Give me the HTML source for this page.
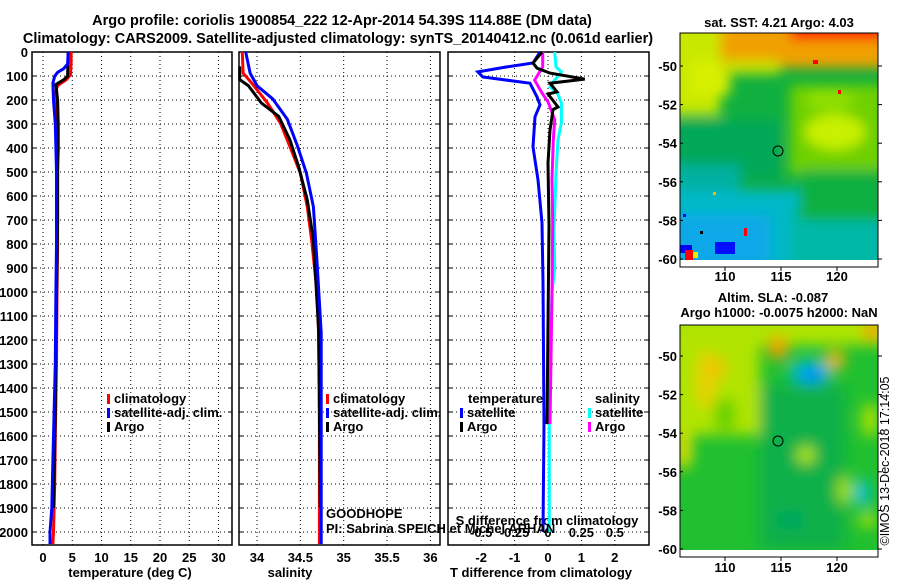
<!DOCTYPE html>
<html><head><meta charset="utf-8"><style>
html,body{margin:0;padding:0;background:#fff;}
svg text{font-family:"Liberation Sans",Arial,sans-serif;}
.b{font-weight:bold;font-size:13px;}
</style></head>
<body>
<svg id="fig" width="900" height="580" viewBox="0 0 900 580" xmlns="http://www.w3.org/2000/svg">
<defs>
<filter id="bl1" filterUnits="userSpaceOnUse" x="660" y="10" width="240" height="270"><feGaussianBlur stdDeviation="6"/></filter>
<filter id="bl2" filterUnits="userSpaceOnUse" x="660" y="300" width="240" height="270"><feGaussianBlur stdDeviation="7"/></filter>
<clipPath id="c1"><rect x="680" y="33" width="198" height="227"/></clipPath>
<clipPath id="c2"><rect x="680" y="325" width="198" height="225"/></clipPath>
</defs>
<text x="342" y="25" text-anchor="middle" font-weight="bold" font-size="14.5">Argo profile: coriolis 1900854_222 12-Apr-2014 54.39S 114.88E (DM data)</text>
<text x="338" y="43" text-anchor="middle" font-weight="bold" font-size="14.5">Climatology: CARS2009. Satellite-adjusted climatology: synTS_20140412.nc (0.061d earlier)</text>

<!-- map 1 -->
<g>
<g clip-path="url(#c1)">
<rect x="680" y="33" width="198" height="227" fill="#10b040"/>
<g filter="url(#bl1)">
<rect x="700" y="20" width="190" height="48" fill="#f0a000"/>
<rect x="670" y="20" width="50" height="95" fill="#c8e800"/>
<rect x="690" y="60" width="40" height="35" fill="#d8f000"/>
<rect x="790" y="20" width="100" height="20" fill="#ff1000"/>
<rect x="720" y="60" width="60" height="14" fill="#c8e000"/>
<rect x="790" y="85" width="95" height="90" fill="#70d000"/>
<ellipse cx="835" cy="132" rx="30" ry="18" fill="#c8f000"/>
<ellipse cx="830" cy="100" rx="25" ry="10" fill="#90e000"/>
<rect x="670" y="120" width="110" height="60" fill="#00a858"/>
<rect x="670" y="165" width="70" height="35" fill="#00b0a0"/>
<rect x="670" y="190" width="130" height="80" fill="#00b8c8"/>
<rect x="670" y="215" width="100" height="55" fill="#10a8e8"/>
<rect x="790" y="205" width="100" height="65" fill="#00b8a8"/>
<rect x="800" y="170" width="90" height="50" fill="#10b040"/>
</g>
<rect x="680" y="245" width="12" height="8" fill="#0000ff"/>
<rect x="715" y="242" width="20" height="12" fill="#0010ff"/>
<rect x="685" y="250" width="8" height="10" fill="#ff0000"/>
<rect x="693" y="252" width="5" height="6" fill="#e0f000"/>
<rect x="744" y="228" width="3" height="8" fill="#ff0000"/>
<rect x="700" y="231" width="3" height="3" fill="#000"/>
<rect x="683" y="214" width="3" height="3" fill="#0000ff"/>
<rect x="713" y="192" width="3" height="3" fill="#f0c000"/>
<rect x="838" y="90" width="3" height="4" fill="#ff0000"/>
<rect x="813" y="60" width="5" height="4" fill="#ff0000"/>
</g>
<rect x="680" y="260" width="198" height="7" fill="#fff"/>
<rect x="680" y="33" width="198" height="234" fill="none" stroke="#000" stroke-width="1"/>
<circle cx="778" cy="151" r="5" fill="none" stroke="#000" stroke-width="1"/>
<text x="779" y="27" text-anchor="middle" class="b">sat. SST: 4.21 Argo: 4.03</text>
</g>

<!-- map 2 -->
<g>
<g clip-path="url(#c2)">
<rect x="680" y="325" width="198" height="225" fill="#20c030"/>
<g filter="url(#bl2)">
<rect x="670" y="315" width="90" height="120" fill="#b0e400"/>
<rect x="670" y="315" width="220" height="30" fill="#b0e400"/>
<ellipse cx="706" cy="380" rx="10" ry="30" fill="#e8d000"/>
<ellipse cx="718" cy="368" rx="8" ry="10" fill="#f0c000"/>
<ellipse cx="778" cy="348" rx="10" ry="12" fill="#f0a000"/>
<ellipse cx="835" cy="360" rx="10" ry="10" fill="#f0b000"/>
<ellipse cx="872" cy="330" rx="8" ry="12" fill="#f0a000"/>
<ellipse cx="684" cy="450" rx="8" ry="20" fill="#e8e000"/>
<rect x="715" y="400" width="20" height="30" fill="#60d000"/>
<rect x="760" y="385" width="85" height="165" fill="#10b048"/>
<ellipse cx="810" cy="372" rx="22" ry="12" fill="#00c0c0"/>
<ellipse cx="812" cy="375" rx="14" ry="8" fill="#0090ff"/>
<ellipse cx="862" cy="493" rx="8" ry="14" fill="#00c0d0"/>
<ellipse cx="806" cy="455" rx="9" ry="9" fill="#b0e800"/>
<ellipse cx="845" cy="490" rx="8" ry="14" fill="#a0e000"/>
<ellipse cx="870" cy="420" rx="8" ry="18" fill="#b0e400"/>
<ellipse cx="868" cy="520" rx="8" ry="8" fill="#b0e400"/>
<ellipse cx="790" cy="520" rx="15" ry="10" fill="#00a860"/>
</g>
</g>
<rect x="680" y="550" width="198" height="7" fill="#fff"/>
<rect x="680" y="325" width="198" height="232" fill="none" stroke="#000" stroke-width="1"/>
<circle cx="778" cy="441" r="5" fill="none" stroke="#000" stroke-width="1"/>
<text x="773" y="302" text-anchor="middle" class="b">Altim. SLA: -0.087</text>
<text x="779" y="317" text-anchor="middle" class="b">Argo h1000: -0.0075 h2000: NaN</text>
</g>
<text x="0" y="0" font-size="12.5" text-anchor="middle" transform="translate(889,461) rotate(-90)">©IMOS 13-Dec-2018 17:14:05</text>

<g id="plots"></g>
</svg>
<script>
// ---- data ----
const tempClimDepth = [0,50,95,115,140,170,220,300,500,800,1000,1300,1600,1800,2000,2050];
const tempClim      = [4.8,4.8,4.7,4.0,2.5,2.1,2.2,2.4,2.5,2.5,2.4,2.3,2.1,2.0,1.8,1.7];
const tempSatDepth  = [0,50,70,85,100,130,200,300,500,800,1000,1300,1500,1700,1900,2000,2050];
const tempSat       = [4.3,4.2,3.5,2.5,2.0,1.7,1.8,2.1,2.3,2.3,2.2,2.1,1.9,1.7,1.5,1.2,1.2];
const tempArgoDepth = [0,100,115,135,200,300,400,500,700,900,1200,1500,1900];
const tempArgo      = [4.3,4.2,3.6,2.2,2.5,2.6,2.6,2.5,2.5,2.4,2.2,2.1,1.8];

const salClimDepth = [0,88,130,212,296,394,505,645,783,990,1170,1400,1700,2050];
const salClim      = [33.83,33.84,33.94,34.12,34.27,34.38,34.50,34.58,34.63,34.69,34.71,34.72,34.72,34.72];
const salSatDepth  = [0,88,140,195,280,394,505,645,860,1170,1400,1700,2050];
const salSat       = [33.87,33.92,34.00,34.18,34.35,34.47,34.57,34.65,34.69,34.74,34.74,34.74,34.74];
const salArgoDepth = [60,115,140,212,268,366,477,617,783,1155,1500,1900];
const salArgo      = [33.80,33.80,33.90,34.05,34.25,34.38,34.48,34.58,34.65,34.71,34.72,34.73];

const dTsatDepth  = [0,46,62,83,104,130,187,220,270,395,533,712,960,1550,2000];
const dTsat       = [-0.24,-0.45,-1.23,-2.1,-1.95,-0.54,-0.33,-0.24,-0.39,-0.45,-0.3,-0.18,-0.15,-0.12,-0.15];
const dTargoDepth = [0,46,67,88,113,130,166,175,229,240,325,462,725,1550];
const dTargo      = [-0.18,-0.45,-0.33,0.06,1.1,0.06,0.27,0.0,0.3,0.15,0.06,0.0,0.03,-0.03];
const dSargoDepth = [0,62,117,171,208,229,283,366,533,712,1000,1550];
const dSargo      = [-0.04,-0.04,-0.1,-0.045,0.0,0.015,0.05,0.04,0.03,0.035,0.03,0.015];
const dSsatDepth  = [0,62,83,117,146,171,212,296,366,505,741,900,1000,1300,2000];
const dSsat       = [0.05,0.06,0.1,0.05,0.015,0.07,0.1,0.1,0.075,0.06,0.045,0.05,0.03,0.01,0.01];

const depthTicks = [0,100,200,300,400,500,600,700,800,900,1000,1100,1200,1300,1400,1500,1600,1700,1800,1900,2000];
const tempTicks = [0,5,10,15,20,25,30];
const salTicks = ["34","34.5","35","35.5","36"];
const dTTicks = [-2,-1,0,1,2];
const dSTicks = ["-0.5","-0.25","0","0.25","0.5"];
const latTicks = [-50,-52,-54,-56,-58,-60];
const lonTicks = [110,115,120];

// ---- axis functions ----
const TOP=52, BOT=545;
const yD = d => TOP + d*0.24;
const xT = t => 43 + t*5.85;
const xS = s => 257 + (s-34)*86.7;
const xDT = v => 548 + v*33.4;
const xDS = v => 548 + v*133.6;
const xLon = l => 781 + (l-115)*11.2;
const yLat1 = l => 66 + (-50-l)*19.3;
const yLat2 = l => 356 + (-50-l)*19.3;

const NS="http://www.w3.org/2000/svg";
const root=document.getElementById('plots');
function mk(tag, attrs, parent){
  const e=document.createElementNS(NS,tag);
  for(const k in attrs) e.setAttribute(k,attrs[k]);
  (parent||root).appendChild(e); return e;
}
function txt(str,x,y,anchor,cls,parent){
  const e=mk('text',{x:x,y:y,'text-anchor':anchor||'start','class':cls||'b'},parent);
  e.textContent=str; return e;
}

const panels=[
  {name:'temperature-panel',x0:32,x1:232,vx:tempTicks.map(xT)},
  {name:'salinity-panel',x0:239,x1:440,vx:salTicks.map(s=>xS(+s))},
  {name:'difference-panel',x0:448,x1:649,vx:dTTicks.map(xDT)}
];
panels.forEach(p=>{
  const g=mk('g',{});
  
  
  depthTicks.slice(1).forEach(d=>{
    const l=mk('line',{x1:p.x0,x2:p.x1,y1:yD(d),y2:yD(d),stroke:'#000','stroke-width':1,'stroke-dasharray':'1,3'},g);
    
    
    mk('line',{x1:p.x0,x2:p.x0+4,y1:yD(d),y2:yD(d),stroke:'#000'},g);
    mk('line',{x1:p.x1-4,x2:p.x1,y1:yD(d),y2:yD(d),stroke:'#000'},g);
  });
  p.vx.forEach(x=>{
    const l=mk('line',{x1:x,x2:x,y1:TOP,y2:BOT,stroke:'#000','stroke-width':1,'stroke-dasharray':'1,3'},g);
    
    
  });
  const r=mk('rect',{x:p.x0,y:TOP,width:p.x1-p.x0,height:BOT-TOP,fill:'none',stroke:'#000','stroke-width':1.5},g);
  
  
});

// depth labels
depthTicks.forEach(d=>{
  const t=txt(String(d),28,yD(d)+5,'end');
  
  
});
tempTicks.forEach(v=>{
  const t=txt(String(v),xT(v),562,'middle');
  
  
});
salTicks.forEach(v=>{
  const t=txt(v,xS(+v),562,'middle');
  
  
});
dTTicks.forEach(v=>{
  const t=txt(String(v),xDT(v),562,'middle');
  
  
});
dSTicks.forEach(v=>{
  const t=txt(v,xDS(+v),537,'middle');
  
  
});
let at;
at=txt('temperature (deg C)',130,577,'middle');


at=txt('salinity',290,577,'middle');


at=txt('T difference from climatology',541,577,'middle');


at=txt('S difference from climatology',547,525,'middle');



// series
function series(name,depths,vals,xf,color){
  const pts=depths.map((d,i)=>xf(vals[i]).toFixed(1)+','+yD(d).toFixed(1)).join(' ');
  const pl=mk('polyline',{points:pts,fill:'none',stroke:color,'stroke-width':3,'stroke-linejoin':'miter'});
  
  
}
series('temp-climatology-line',tempClimDepth,tempClim,xT,'#ff0000');
series('temp-argo-line',tempArgoDepth,tempArgo,xT,'#000000');
series('temp-satellite-line',tempSatDepth,tempSat,xT,'#0000ff');
series('sal-climatology-line',salClimDepth,salClim,xS,'#ff0000');
series('sal-argo-line',salArgoDepth,salArgo,xS,'#000000');
series('sal-satellite-line',salSatDepth,salSat,xS,'#0000ff');
series('dt-satellite-line',dTsatDepth,dTsat,xDT,'#0000ff');
series('ds-satellite-line',dSsatDepth,dSsat,xDS,'#00ffff');
series('ds-argo-line',dSargoDepth,dSargo,xDS,'#ff00ff');
series('dt-argo-line',dTargoDepth,dTargo,xDT,'#000000');

// legends
function legend(name,x,y,color,label){
  const g=mk('g',{});
  
  
  mk('rect',{x:x,y:y-9,width:3,height:10,fill:color},g);
  txt(label,x+7,y,'start','b',g);
}
legend('legend-climatology',107,403,'#ff0000','climatology');
legend('legend-satellite-adj',107,417,'#0000ff','satellite-adj. clim.');
legend('legend-argo',107,431,'#000000','Argo');
legend('legend-climatology-sal',326,403,'#ff0000','climatology');
legend('legend-satellite-adj-sal',326,417,'#0000ff','satellite-adj. clim.');
legend('legend-argo-sal',326,431,'#000000','Argo');
at=txt('temperature',468,403,'start');


at=txt('salinity',595,403,'start');


legend('legend-t-satellite',460,417,'#0000ff','satellite');
legend('legend-t-argo',460,431,'#000000','Argo');
legend('legend-s-satellite',588,417,'#00ffff','satellite');
legend('legend-s-argo',588,431,'#ff00ff','Argo');

at=txt('GOODHOPE',326,518,'start','');
at.setAttribute('font-size','12');


at=txt('PI: Sabrina SPEICH et Michel ARHAN',326,533,'start','');
at.setAttribute('font-size','12');



// map axes
[[yLat1,267,281],[yLat2,557,572]].forEach(([yf,bot,ly])=>{
  latTicks.forEach(l=>{
    const t=txt(String(l),677,yf(l)+5,'end');
    
    
    mk('line',{x1:878,x2:882,y1:yf(l),y2:yf(l),stroke:'#000'});
    mk('line',{x1:680,x2:683,y1:yf(l),y2:yf(l),stroke:'#000'});
  });
  lonTicks.forEach(l=>{
    const t=txt(String(l),xLon(l),ly,'middle');
    
    
    mk('line',{x1:xLon(l),x2:xLon(l),y1:bot,y2:bot+4,stroke:'#000'});
  });
});
</script>
</body></html>
